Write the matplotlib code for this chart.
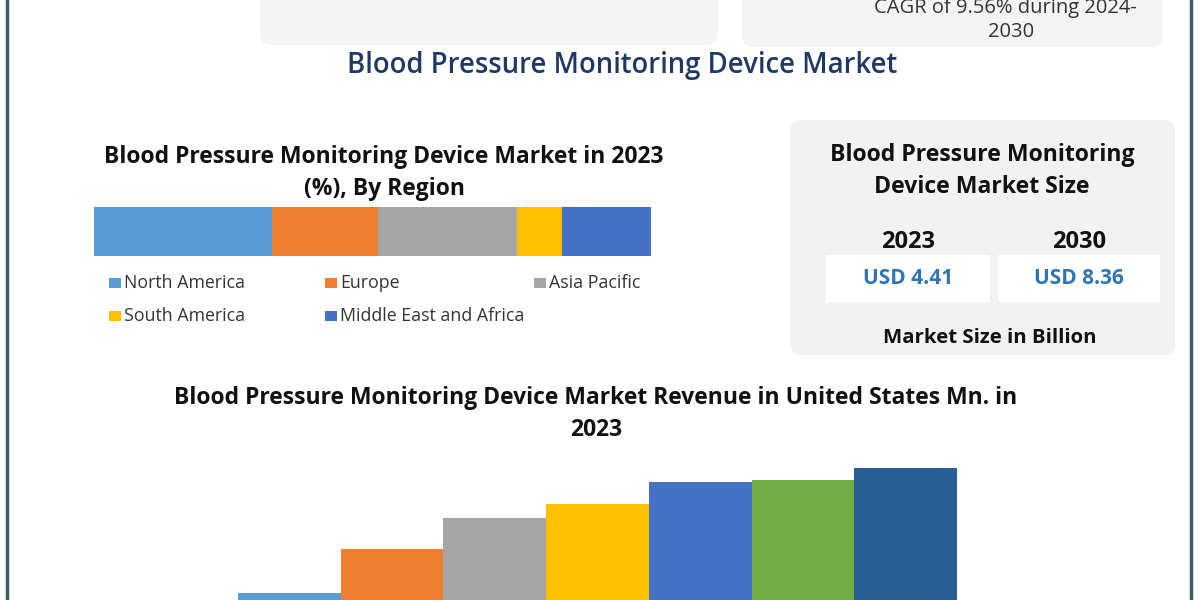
import matplotlib
matplotlib.use("Agg")
import matplotlib.pyplot as plt
from matplotlib.patches import FancyBboxPatch, Rectangle

# Daten
regions = ["North America", "Europe", "Asia Pacific", "South America", "Middle East and Africa"]
region_share = [32, 19, 25, 8, 16]
region_colors = ["#5b9bd5", "#ed7d31", "#a5a5a5", "#ffc000", "#4472c4"]

size_years = ["2023", "2030"]
size_values = ["USD 4.41", "USD 8.36"]

revenue = [7, 51, 82, 96, 118, 120, 132]
revenue_colors = ["#5b9bd5", "#ed7d31", "#a5a5a5", "#ffc000", "#4472c4", "#70ad47", "#285f94"]

BOLD = "Open Sans"
REG = "Open Sans"

fig = plt.figure(figsize=(12, 6), dpi=100)

# Hintergrund-Achse in Pixelkoordinaten
bg = fig.add_axes([0, 0, 1, 1])
bg.set_xlim(0, 1200)
bg.set_ylim(600, 0)
bg.axis("off")

# Rahmenlinien links und rechts
bg.plot([7, 7], [0, 600], color="#3d5a6b", lw=2.5)
bg.plot([1191, 1191], [0, 600], color="#3d5a6b", lw=2.5)

# obere Kaesten (abgeschnitten)
for x0, x1, y1 in [(260, 718, 45), (742, 1163, 47)]:
    bg.add_patch(FancyBboxPatch((x0, -30), x1 - x0, y1 + 30,
                                boxstyle="round,pad=0,rounding_size=12",
                                fc="#f4f4f4", ec="none"))
bg.text(1005, 8, "CAGR of 9.56% during 2024-", ha="center", va="center",
        fontsize=14.5, color="#333333", family=REG)
bg.text(1011, 32, "2030", ha="center", va="center",
        fontsize=14.5, color="#333333", family=REG)

# Haupttitel
bg.text(622, 65, "Blood Pressure Monitoring Device Market", ha="center", va="center",
        fontsize=19.8, color="#1f3864", family=REG, fontweight="semibold")

# Titel Regionen-Balken
bg.text(384, 173, "Blood Pressure Monitoring Device Market in 2023\n(%), By Region",
        ha="center", va="center", fontsize=16.5, fontweight="bold", family=BOLD,
        color="#111111", linespacing=1.4)

# gestapelter Balken
ax1 = fig.add_axes([94 / 1200, (600 - 256) / 600, 557 / 1200, 49 / 600])
left = 0
for share, col in zip(region_share, region_colors):
    ax1.barh(0, share, left=left, height=1, color=col)
    left += share
ax1.set_xlim(0, sum(region_share))
ax1.set_ylim(-0.5, 0.5)
ax1.axis("off")

# Legende
leg_x = [109, 325, 534]
for i, (name, col) in enumerate(zip(regions, region_colors)):
    x = leg_x[i % 3]
    y = 283 + (i // 3) * 33
    bg.add_patch(Rectangle((x, y - 5), 12, 10, fc=col, ec="none"))
    bg.text(x + 15, y, name, ha="left", va="center", fontsize=12.8,
            color="#333333", family=REG)

# rechter Kasten Marktgroesse
bg.add_patch(FancyBboxPatch((790, 120), 385, 235,
                            boxstyle="round,pad=0,rounding_size=12",
                            fc="#f2f2f2", ec="none"))
bg.text(982, 171, "Blood Pressure Monitoring\nDevice Market Size", ha="center", va="center",
        fontsize=16.6, fontweight="bold", family=BOLD, color="#111111", linespacing=1.4)
box_x = [(826, 990), (998, 1160)]
for (x0, x1), yr, val in zip(box_x, size_years, size_values):
    bg.add_patch(Rectangle((x0, 255), x1 - x0, 47, fc="white", ec="none"))
    xc = (x0 + x1) / 2
    bg.text(xc, 242, yr, ha="center", va="center", fontsize=17,
            fontweight="bold", family=BOLD, color="#111111")
    bg.text(xc, 279, val, ha="center", va="center", fontsize=15,
            fontweight="bold", family=BOLD, color="#2e75b6")
bg.text(990, 338, "Market Size in Billion", ha="center", va="center", fontsize=14.7,
        fontweight="bold", family=BOLD, color="#111111")

# Titel unten
bg.text(596, 414, "Blood Pressure Monitoring Device Market Revenue in United States Mn. in\n2023",
        ha="center", va="center", fontsize=16.5, fontweight="bold", family=BOLD,
        color="#111111", linespacing=1.4)

# Umsatz-Balken
ax2 = fig.add_axes([238 / 1200, 0, 719 / 1200, 140 / 600])
ax2.bar(range(len(revenue)), revenue, width=1.0, color=revenue_colors)
ax2.set_xlim(-0.5, len(revenue) - 0.5)
ax2.set_ylim(0, 140)
ax2.axis("off")

plt.savefig("out.png", dpi=100)
